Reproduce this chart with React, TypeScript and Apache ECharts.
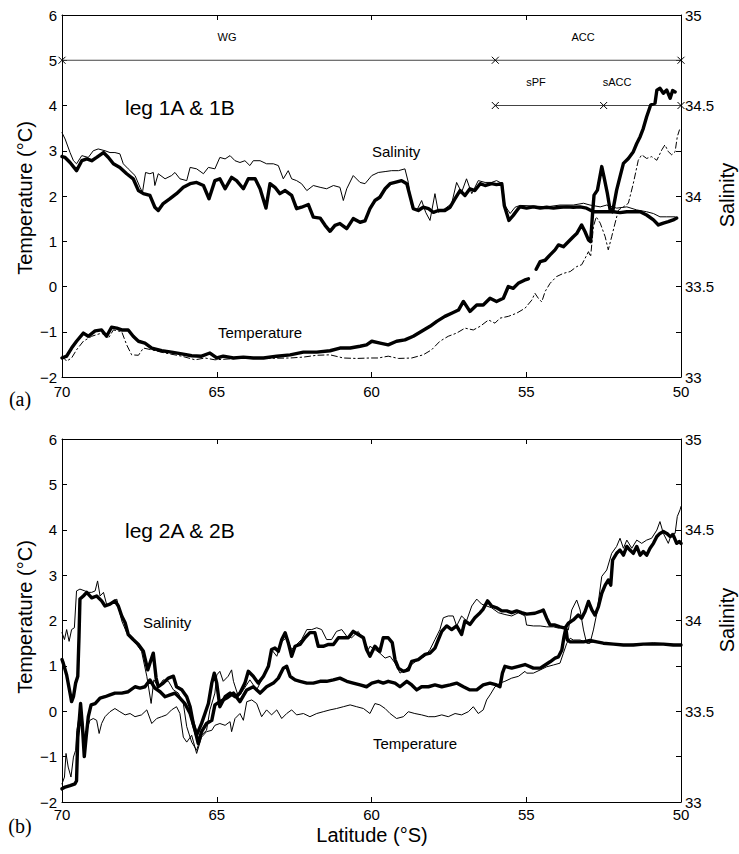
import React, { useEffect, useRef } from 'react';
import * as echarts from 'echarts';

const FONT = '"Liberation Sans", Arial, Helvetica, sans-serif';
const SERIF = '"Liberation Serif", "Times New Roman", serif';

// ---- axis ranges / ticks ----
const latRange = [50, 70];
const latStep = 5;
const tempRange = [-2, 6];
const salRange = [33, 35];
const salStep = 0.25;

// ---- panel (a): leg 1A & 1B ----
const aSalThick: any[] = [
  [70.0, 34.218], [69.9, 34.213], [69.74, 34.185], [69.53, 34.14], [69.36, 34.195], [69.2, 34.205], [69.04, 34.195], [68.88, 34.213], [68.66, 34.24], [68.5, 34.213], [68.34, 34.178], [68.13, 34.158], [67.91, 34.123], [67.7, 34.095], [67.53, 34.03], [67.37, 34.013], [67.16, 34.003], [67.0, 33.938], [66.89, 33.92], [66.73, 33.958], [66.51, 33.985], [66.3, 34.013], [66.08, 34.048], [65.86, 34.068], [65.65, 34.075], [65.43, 34.058], [65.25, 33.985], [65.06, 34.085], [64.9, 34.095], [64.73, 34.04], [64.52, 34.103], [64.36, 34.085], [64.14, 34.04], [63.98, 34.095], [63.76, 34.095], [63.6, 34.04], [63.41, 33.933], [63.28, 34.068], [63.12, 34.048], [62.96, 34.013], [62.79, 34.03], [62.58, 34.003], [62.42, 33.93], [62.26, 33.938], [62.04, 33.953], [61.88, 33.883], [61.66, 33.878], [61.5, 33.838], [61.34, 33.805], [61.18, 33.838], [61.02, 33.848], [60.8, 33.82], [60.59, 33.875], [60.37, 33.855], [60.21, 33.863], [60.05, 33.93], [59.89, 33.975], [59.73, 33.993], [59.56, 34.04], [59.4, 34.068], [59.24, 34.075], [59.03, 34.085], [58.86, 34.068], [58.76, 34.003], [58.65, 33.93], [58.49, 33.92], [58.33, 33.938], [58.16, 33.93], [58.0, 33.91], [57.84, 33.92], [57.63, 33.92], [57.46, 33.938], [57.3, 33.985], [57.14, 34.03], [56.98, 34.003], [56.82, 34.04], [56.66, 34.03], [56.49, 34.068], [56.33, 34.058], [56.12, 34.068], [55.96, 34.063], [55.79, 34.068], [55.71, 33.948], [55.56, 33.865], [55.42, 33.893], [55.26, 33.93], [55.2, 33.94], [54.99, 33.933], [54.77, 33.94], [54.55, 33.933], [54.34, 33.938], [54.12, 33.933], [53.91, 33.938], [53.69, 33.94], [53.48, 33.938], [53.26, 33.94], [53.05, 33.933], [52.83, 33.913], [52.51, 33.913], [52.18, 33.913], [51.97, 33.908], [51.75, 33.913], [51.54, 33.913], [51.32, 33.913], [51.11, 33.895], [50.89, 33.868], [50.73, 33.84], [50.57, 33.85], [50.41, 33.858], [50.25, 33.868], [50.14, 33.878],
];
const aSalThin: any[] = [
  [70.0, 34.35], [69.9, 34.315], [69.74, 34.24], [69.63, 34.195], [69.53, 34.178], [69.36, 34.223], [69.15, 34.213], [68.99, 34.25], [68.83, 34.26], [68.61, 34.25], [68.45, 34.24], [68.29, 34.24], [68.13, 34.233], [68.02, 34.178], [67.86, 34.15], [67.64, 34.113], [67.48, 34.048], [67.4, 34.02], [67.3, 34.13], [67.16, 34.123], [67.05, 34.13], [67.0, 34.058], [66.89, 34.123], [66.67, 34.095], [66.46, 34.113], [66.35, 34.13], [66.19, 34.095], [65.97, 34.085], [65.86, 34.158], [65.65, 34.15], [65.43, 34.123], [65.27, 34.158], [65.06, 34.15], [64.9, 34.213], [64.73, 34.205], [64.57, 34.223], [64.41, 34.195], [64.25, 34.185], [64.09, 34.195], [63.93, 34.168], [63.82, 34.195], [63.6, 34.195], [63.39, 34.178], [63.17, 34.178], [63.01, 34.168], [62.85, 34.095], [62.69, 34.14], [62.58, 34.095], [62.42, 34.085], [62.26, 34.068], [62.09, 34.03], [61.88, 34.058], [61.66, 34.048], [61.45, 34.04], [61.23, 34.058], [61.02, 34.048], [60.91, 33.975], [60.8, 34.04], [60.59, 34.113], [60.37, 34.075], [60.21, 34.068], [59.99, 34.113], [59.78, 34.13], [59.56, 34.135], [59.35, 34.14], [59.13, 34.14], [58.92, 34.15], [58.81, 34.075], [58.7, 33.938], [58.54, 33.92], [58.38, 33.975], [58.25, 33.91], [58.11, 33.865], [57.95, 34.013], [57.84, 33.91], [57.63, 33.93], [57.41, 33.958], [57.25, 34.075], [57.09, 34.02], [56.93, 34.095], [56.76, 34.013], [56.55, 34.085], [56.33, 34.075], [56.12, 34.075], [55.96, 34.085], [55.77, 34.068], [55.69, 33.948], [55.52, 33.903], [55.36, 33.938], [55.2, 33.948], [54.77, 33.945], [54.34, 33.94], [53.91, 33.95], [53.48, 33.95], [53.15, 33.96], [52.94, 33.95], [52.61, 33.94], [52.4, 33.95], [52.08, 33.933], [51.75, 33.94], [51.43, 33.923], [51.11, 33.913], [50.89, 33.903], [50.68, 33.885], [50.46, 33.885], [50.19, 33.885],
];
const aTempThick: any[] = [
  [70.0, -1.58], [69.85, -1.54], [69.69, -1.36], [69.53, -1.21], [69.31, -1.03], [69.15, -1.1], [68.93, -0.98], [68.72, -0.96], [68.56, -1.1], [68.4, -0.9], [68.23, -0.92], [68.07, -0.96], [67.86, -0.96], [67.7, -1.1], [67.53, -1.21], [67.32, -1.25], [67.1, -1.36], [66.78, -1.42], [66.46, -1.45], [66.13, -1.49], [65.81, -1.53], [65.49, -1.54], [65.22, -1.47], [65.0, -1.58], [64.79, -1.54], [64.46, -1.58], [64.14, -1.56], [63.82, -1.58], [63.49, -1.58], [63.06, -1.54], [62.63, -1.51], [62.2, -1.45], [61.77, -1.45], [61.34, -1.42], [61.02, -1.36], [60.69, -1.36], [60.37, -1.32], [60.16, -1.29], [59.99, -1.21], [59.72, -1.25], [59.46, -1.29], [59.19, -1.21], [58.92, -1.18], [58.65, -1.1], [58.38, -0.99], [58.11, -0.88], [57.89, -0.77], [57.63, -0.66], [57.41, -0.59], [57.19, -0.52], [57.03, -0.33], [56.82, -0.55], [56.6, -0.41], [56.39, -0.41], [56.17, -0.26], [55.96, -0.33], [55.74, -0.26], [55.58, 0.0], [55.42, -0.04], [55.26, 0.07], [55.06, 0.14], [54.93, 0.17], [54.81, '-'], [54.68, 0.38], [54.55, 0.55], [54.39, 0.58], [54.23, 0.7], [54.07, 0.81], [53.96, 0.92], [53.8, 0.88], [53.64, 0.99], [53.48, 1.1], [53.37, 1.17], [53.21, 1.36], [53.1, 1.21], [52.99, 1.03], [52.92, 0.99], [52.85, 1.69], [52.81, 2.02], [52.7, 2.13], [52.56, 2.65], [52.49, 2.43], [52.38, 2.06], [52.29, 1.69], [52.21, 1.65], [52.08, 2.13], [51.97, 2.43], [51.86, 2.72], [51.7, 2.83], [51.54, 2.98], [51.43, 3.16], [51.32, 3.31], [51.22, 3.49], [51.11, 3.75], [50.98, 4.01], [50.84, 4.05], [50.78, 4.34], [50.68, 4.38], [50.57, 4.27], [50.46, 4.34], [50.35, 4.16], [50.27, 4.33], [50.19, 4.3],
];
const aTempThin: any[] = [
  [70.0, -1.54], [69.85, -1.65], [69.69, -1.58], [69.53, -1.4], [69.31, -1.21], [69.04, -1.1], [68.72, -1.03], [68.5, -1.14], [68.34, -0.96], [68.07, -1.0], [67.91, -1.29], [67.75, -1.51], [67.53, -1.52], [67.37, -1.36], [67.1, -1.4], [66.67, -1.47], [66.13, -1.54], [65.7, -1.62], [65.38, -1.58], [65.06, -1.62], [64.36, -1.59], [63.49, -1.59], [62.63, -1.58], [62.2, -1.56], [61.77, -1.52], [61.34, -1.51], [60.91, -1.58], [60.48, -1.59], [60.05, -1.58], [59.78, -1.58], [59.46, -1.54], [59.13, -1.59], [58.7, -1.58], [58.33, -1.51], [58.06, -1.4], [57.79, -1.21], [57.52, -1.1], [57.25, -1.03], [56.98, -0.92], [56.71, -0.96], [56.49, -0.88], [56.22, -0.74], [56.01, -0.81], [55.85, -0.7], [55.58, -0.66], [55.31, -0.59], [55.04, -0.48], [54.82, -0.3], [54.72, -0.15], [54.61, -0.26], [54.5, -0.34], [54.39, -0.11], [54.23, 0.07], [54.02, 0.22], [53.8, 0.29], [53.58, 0.33], [53.37, 0.44], [53.21, 0.48], [53.1, 0.62], [52.99, 0.77], [52.92, 0.66], [52.83, 1.32], [52.74, 1.54], [52.61, 1.4], [52.45, 1.1], [52.35, 0.81], [52.24, 1.1], [52.13, 1.4], [52.02, 1.69], [51.86, 1.76], [51.7, 1.84], [51.54, 2.28], [51.38, 2.79], [51.27, 2.91], [51.11, 2.83], [50.95, 2.87], [50.78, 2.79], [50.62, 3.02], [50.52, 3.13], [50.41, 2.98], [50.3, 2.91], [50.19, 2.98], [50.12, 3.31], [50.05, 3.46],
];
// frontal zones (temperature-axis level of the marker lines)
const zoneLine = [[70, 5], [56, 5], [50, 5]];
const frontLine = [[56, 4], [52.5, 4], [50, 4]];

// ---- panel (b): leg 2A & 2B ----
const bSalThick: any[] = [
  [70.0, 33.785], [69.96, 33.765], [69.85, 33.7], [69.74, 33.6], [69.69, 33.553], [69.63, 33.58], [69.56, 33.655], [69.49, 33.693], [69.45, 33.913], [69.42, 34.118], [69.31, 34.135], [69.2, 34.155], [69.04, 34.125], [68.88, 34.135], [68.72, 34.108], [68.61, 34.08], [68.45, 34.09], [68.29, 34.108], [68.18, 34.08], [68.07, 34.025], [67.96, 33.988], [67.86, 33.923], [67.7, 33.895], [67.53, 33.868], [67.37, 33.83], [67.23, 33.728], [67.16, 33.765], [67.05, 33.82], [66.96, 33.683], [66.89, 33.635], [66.73, 33.655], [66.56, 33.683], [66.4, 33.693], [66.3, 33.635], [66.13, 33.618], [65.97, 33.58], [65.86, 33.525], [65.76, 33.433], [65.65, 33.368], [65.49, 33.433], [65.38, 33.488], [65.27, 33.543], [65.16, 33.655], [65.08, 33.71], [65.0, 33.655], [64.9, 33.525], [64.73, 33.58], [64.57, 33.6], [64.41, 33.58], [64.25, 33.6], [64.09, 33.655], [63.98, 33.72], [63.82, 33.693], [63.66, 33.655], [63.49, 33.693], [63.33, 33.748], [63.23, 33.84], [63.12, 33.848], [63.01, 33.83], [62.9, 33.895], [62.79, 33.933], [62.69, 33.878], [62.58, 33.803], [62.47, 33.858], [62.31, 33.868], [62.15, 33.905], [61.99, 33.933], [61.83, 33.933], [61.72, 33.858], [61.56, 33.858], [61.39, 33.868], [61.23, 33.868], [61.07, 33.905], [60.91, 33.905], [60.75, 33.905], [60.59, 33.94], [60.43, 33.923], [60.26, 33.905], [60.16, 33.84], [60.05, 33.803], [59.89, 33.858], [59.73, 33.83], [59.62, 33.905], [59.46, 33.905], [59.33, 33.878], [59.24, 33.785], [59.13, 33.738], [58.97, 33.72], [58.81, 33.728], [58.7, 33.775], [58.49, 33.785], [58.27, 33.813], [58.11, 33.82], [57.95, 33.848], [57.84, 33.895], [57.73, 33.94], [57.57, 33.97], [57.41, 33.95], [57.25, 33.97], [57.09, 33.923], [56.98, 33.998], [56.82, 33.978], [56.66, 34.015], [56.49, 34.043], [56.39, 34.063], [56.25, 34.108], [56.12, 34.08], [55.96, 34.07], [55.79, 34.053], [55.63, 34.053], [55.47, 34.043], [55.31, 34.053], [55.15, 34.043], [54.99, 34.035], [54.72, 34.04], [54.55, 34.05], [54.45, 34.058], [54.34, 34.013], [54.23, 33.975], [54.07, 33.975], [53.91, 33.965], [53.75, 33.958], [53.64, 33.985], [53.48, 34.003], [53.32, 34.03], [53.21, 34.013], [53.1, 34.05], [52.99, 34.105], [52.88, 34.058], [52.78, 34.03], [52.67, 34.075], [52.56, 34.15], [52.45, 34.195], [52.35, 34.223], [52.27, 34.195], [52.21, 34.333], [52.08, 34.37], [51.97, 34.388], [51.86, 34.36], [51.75, 34.408], [51.65, 34.388], [51.54, 34.37], [51.43, 34.408], [51.32, 34.36], [51.22, 34.38], [51.11, 34.36], [51.0, 34.398], [50.89, 34.425], [50.78, 34.463], [50.68, 34.48], [50.57, 34.49], [50.46, 34.48], [50.35, 34.463], [50.25, 34.47], [50.14, 34.425], [50.05, 34.435], [50.0, 34.425],
];
const bSalThin: any[] = [
  [70.0, 33.933], [69.92, 33.895], [69.85, 33.95], [69.77, 33.885], [69.69, 33.95], [69.6, 33.96], [69.53, 34.163], [69.42, 34.173], [69.26, 34.163], [69.15, 34.155], [69.04, 34.155], [68.93, 34.163], [68.85, 34.218], [68.77, 34.135], [68.66, 34.155], [68.56, 34.09], [68.4, 34.09], [68.23, 34.118], [68.07, 33.998], [67.91, 33.933], [67.75, 33.895], [67.59, 33.868], [67.43, 33.83], [67.26, 33.693], [67.12, 33.543], [67.03, 33.673], [66.89, 33.635], [66.73, 33.673], [66.56, 33.665], [66.4, 33.618], [66.24, 33.6], [66.08, 33.543], [65.97, 33.415], [65.81, 33.33], [65.65, 33.285], [65.49, 33.368], [65.33, 33.395], [65.22, 33.508], [65.06, 33.6], [65.0, 33.7], [64.9, 33.72], [64.79, 33.665], [64.63, 33.693], [64.52, 33.728], [64.46, 33.665], [64.3, 33.58], [64.14, 33.618], [63.93, 33.673], [63.71, 33.618], [63.55, 33.673], [63.39, 33.728], [63.23, 33.84], [63.06, 33.803], [62.9, 33.885], [62.74, 33.905], [62.58, 33.84], [62.42, 33.868], [62.26, 33.895], [62.09, 33.95], [61.93, 33.95], [61.77, 33.96], [61.61, 33.95], [61.45, 33.895], [61.29, 33.895], [61.13, 33.94], [60.96, 33.95], [60.8, 33.913], [60.64, 33.905], [60.43, 33.94], [60.26, 33.895], [60.1, 33.84], [60.05, 33.858], [59.89, 33.84], [59.73, 33.82], [59.56, 33.793], [59.4, 33.803], [59.24, 33.765], [59.08, 33.71], [58.92, 33.728], [58.7, 33.758], [58.49, 33.785], [58.27, 33.803], [58.11, 33.84], [57.95, 33.895], [57.79, 33.95], [57.68, 34.015], [57.52, 34.025], [57.36, 34.025], [57.25, 33.97], [57.09, 34.025], [56.93, 33.998], [56.76, 34.08], [56.6, 34.118], [56.44, 34.09], [56.28, 34.08], [56.12, 34.07], [55.9, 34.043], [55.69, 34.033], [55.47, 34.025], [55.25, 34.043], [55.04, 34.025], [54.99, 33.975], [54.77, 33.97], [54.55, 33.97], [54.34, 33.965], [54.12, 33.965], [53.96, 33.958], [53.8, 33.965], [53.64, 33.948], [53.53, 34.058], [53.37, 34.113], [53.26, 34.058], [53.15, 33.948], [53.05, 33.875], [52.94, 33.875], [52.83, 33.948], [52.72, 34.04], [52.56, 34.243], [52.4, 34.278], [52.24, 34.37], [52.08, 34.408], [51.97, 34.453], [51.86, 34.398], [51.75, 34.443], [51.59, 34.398], [51.43, 34.443], [51.27, 34.425], [51.11, 34.443], [50.95, 34.453], [50.78, 34.498], [50.68, 34.545], [50.57, 34.48], [50.41, 34.425], [50.3, 34.48], [50.19, 34.48], [50.12, 34.573], [50.03, 34.61], [50.0, 34.628],
];
const bTempThick: any[] = [
  [70.0, -1.71], [69.9, -1.67], [69.74, -1.64], [69.58, -1.6], [69.53, -1.53], [69.49, -0.57], [69.45, -0.27], [69.4, 0.17], [69.34, -0.34], [69.28, -1.0], [69.22, -0.57], [69.15, -0.12], [69.06, 0.14], [68.93, 0.17], [68.77, 0.29], [68.61, 0.32], [68.45, 0.36], [68.29, 0.4], [68.07, 0.4], [67.86, 0.43], [67.64, 0.54], [67.48, 0.51], [67.32, 0.54], [67.16, 0.69], [67.0, 0.51], [66.83, 0.43], [66.67, 0.32], [66.51, 0.36], [66.35, 0.4], [66.19, 0.29], [66.03, 0.17], [65.86, -0.05], [65.7, -0.42], [65.6, -0.71], [65.49, -0.45], [65.33, -0.27], [65.16, -0.2], [65.06, 0.14], [64.9, 0.21], [64.68, 0.29], [64.46, 0.4], [64.25, 0.21], [64.03, 0.47], [63.82, 0.54], [63.6, 0.4], [63.39, 0.54], [63.17, 0.62], [63.01, 0.73], [62.85, 0.95], [62.74, 0.99], [62.63, 0.77], [62.47, 0.69], [62.31, 0.66], [62.09, 0.62], [61.88, 0.62], [61.66, 0.66], [61.45, 0.66], [61.23, 0.69], [61.02, 0.73], [60.8, 0.66], [60.59, 0.62], [60.37, 0.58], [60.16, 0.54], [59.99, 0.62], [59.78, 0.66], [59.62, 0.62], [59.46, 0.66], [59.24, 0.62], [59.08, 0.54], [58.86, 0.66], [58.7, 0.58], [58.54, 0.47], [58.38, 0.54], [58.16, 0.54], [57.95, 0.58], [57.73, 0.54], [57.46, 0.58], [57.25, 0.62], [57.03, 0.54], [56.82, 0.47], [56.6, 0.47], [56.39, 0.58], [56.17, 0.62], [55.96, 0.58], [55.85, 0.54], [55.77, 0.84], [55.69, 0.99], [55.47, 0.95], [55.25, 0.99], [55.04, 1.03], [54.77, 0.95], [54.55, 0.95], [54.39, 1.02], [54.23, 1.09], [54.07, 1.17], [53.96, 1.2], [53.85, 1.35], [53.78, 1.64], [53.72, 1.83], [53.67, 1.57], [53.58, 1.53], [53.37, 1.53], [53.15, 1.53], [52.94, 1.56], [52.72, 1.53], [52.51, 1.5], [52.18, 1.48], [51.86, 1.46], [51.54, 1.46], [51.22, 1.48], [50.89, 1.48], [50.57, 1.48], [50.25, 1.46], [50.0, 1.46],
];
const bTempThin: any[] = [
  [70.0, -1.6], [69.92, -1.45], [69.87, -0.93], [69.8, -1.23], [69.71, -1.45], [69.63, -1.01], [69.56, -0.86], [69.52, -0.42], [69.45, -0.12], [69.36, -0.05], [69.28, -0.57], [69.2, -0.42], [69.1, -0.2], [68.99, -0.16], [68.88, -0.2], [68.8, -0.49], [68.72, -0.27], [68.61, -0.12], [68.45, -0.01], [68.29, 0.06], [68.13, -0.01], [67.96, -0.08], [67.8, -0.05], [67.64, -0.12], [67.43, -0.08], [67.26, 0.03], [67.1, -0.27], [66.94, -0.16], [66.78, -0.12], [66.62, -0.08], [66.46, 0.03], [66.3, 0.1], [66.19, -0.05], [66.08, -0.57], [65.97, -0.68], [65.81, -0.53], [65.65, -0.93], [65.49, -0.57], [65.33, -0.45], [65.16, -0.42], [65.06, -0.31], [64.9, -0.27], [64.73, -0.31], [64.57, -0.23], [64.52, -0.45], [64.41, -0.16], [64.25, -0.05], [64.14, -0.2], [64.03, 0.21], [63.87, 0.25], [63.71, 0.17], [63.55, -0.12], [63.39, 0.03], [63.23, -0.08], [63.06, 0.03], [62.9, -0.16], [62.74, -0.05], [62.58, 0.03], [62.42, -0.08], [62.2, -0.05], [61.99, -0.12], [61.77, -0.05], [61.56, -0.01], [61.34, 0.03], [61.13, 0.06], [60.91, 0.1], [60.69, 0.14], [60.48, 0.1], [60.26, 0.06], [60.05, -0.05], [59.89, 0.17], [59.73, 0.14], [59.56, 0.06], [59.4, -0.05], [59.19, -0.16], [58.97, -0.12], [58.81, -0.01], [58.6, -0.05], [58.38, -0.08], [58.16, -0.12], [57.95, -0.12], [57.73, -0.08], [57.52, -0.12], [57.3, -0.05], [57.09, -0.08], [56.87, -0.01], [56.71, 0.1], [56.55, -0.05], [56.39, 0.03], [56.28, 0.25], [56.17, 0.36], [56.01, 0.54], [55.85, 0.62], [55.69, 0.66], [55.47, 0.73], [55.25, 0.77], [55.04, 0.88], [54.99, 0.84], [54.77, 0.84], [54.55, 0.91], [54.34, 0.98], [54.12, 1.02], [53.91, 1.06], [53.8, 1.28], [53.69, 1.5], [53.58, 1.61], [53.48, 1.57], [53.26, 1.57], [53.1, 1.53], [52.99, 1.5], [52.83, 1.53], [52.51, 1.5], [51.97, 1.46], [51.43, 1.48], [50.89, 1.51], [50.35, 1.48], [50.0, 1.46],
];

const THICK = 3.4;
const THIN = 1;

function lineSeries(data: any[], xi: number, yi: number, width: number, type: any = 'solid') {
  return {
    type: 'line',
    data,
    xAxisIndex: xi,
    yAxisIndex: yi,
    symbol: 'none',
    showSymbol: false,
    silent: true,
    connectNulls: false,
    lineStyle: { color: '#000', width, type, cap: 'round', join: 'round' },
    z: width > 2 ? 3 : 4,
  };
}

function markerSeries(data: any[], xi: number, yi: number) {
  return {
    type: 'line',
    data,
    xAxisIndex: xi,
    yAxisIndex: yi,
    symbol: 'path://M0,0L10,10M10,0L0,10',
    symbolSize: 7,
    showSymbol: true,
    clip: false,
    silent: true,
    itemStyle: { color: '#000', borderColor: '#000', borderWidth: 1 },
    lineStyle: { color: '#444', width: 1 },
    z: 2,
  };
}

const tickStyle = { color: '#000', width: 1 };
const labelBase = { color: '#000', fontSize: 15, fontFamily: FONT };

function xAxes(grid: number, margin: number) {
  const common = {
    type: 'value',
    gridIndex: grid,
    min: latRange[0],
    max: latRange[1],
    interval: latStep,
    inverse: true,
    splitLine: { show: false },
    axisLine: { show: true, onZero: false, lineStyle: tickStyle },
    axisTick: { show: true, inside: true, length: 5, lineStyle: tickStyle },
  };
  return [
    { ...common, position: 'bottom', axisLabel: { ...labelBase, margin } },
    { ...common, position: 'top', axisLabel: { show: false } },
  ];
}

function yAxes(grid: number) {
  return [
    {
      type: 'value',
      gridIndex: grid,
      position: 'left',
      min: tempRange[0],
      max: tempRange[1],
      interval: 1,
      splitLine: { show: false },
      axisLine: { show: true, onZero: false, lineStyle: tickStyle },
      axisTick: { show: true, inside: true, length: 5, lineStyle: tickStyle },
      axisLabel: { ...labelBase, margin: 5, formatter: (v: number) => (v < 0 ? '\u2212' + Math.abs(v) : String(v)) },
    },
    {
      type: 'value',
      gridIndex: grid,
      position: 'right',
      min: salRange[0],
      max: salRange[1],
      interval: salStep,
      splitLine: { show: false },
      axisLine: { show: true, onZero: false, lineStyle: tickStyle },
      axisTick: { show: true, inside: true, length: 5, lineStyle: tickStyle },
      axisLabel: { ...labelBase, margin: 4, formatter: (v: number) => (Math.round(v * 4) % 2 === 0 ? String(v) : '') },
    },
  ];
}

function txt(text: string, x: number, y: number, size: number, extra: any = {}) {
  return {
    type: 'text',
    x,
    y,
    rotation: extra.rotation || 0,
    silent: true,
    style: {
      text,
      fill: '#000',
      fontSize: size,
      fontFamily: extra.family || FONT,
      align: extra.align || 'center',
      verticalAlign: 'middle',
      textAlign: extra.align || 'center',
      textVerticalAlign: 'middle',
    },
  };
}

const option: any = {
  animation: false,
  backgroundColor: '#fff',
  grid: [
    { left: 62, top: 15, width: 619, height: 362, show: false },
    { left: 62, top: 439, width: 619, height: 363, show: false },
  ],
  xAxis: [...xAxes(0, 7), ...xAxes(1, 5)],
  yAxis: [...yAxes(0), ...yAxes(1)],
  series: [
    markerSeries(zoneLine, 0, 0),
    markerSeries(frontLine, 0, 0),
    lineSeries(aTempThin, 0, 0, THIN, [6, 3, 1.5, 3]),
    lineSeries(aTempThick, 0, 0, THICK),
    lineSeries(aSalThin, 0, 1, THIN),
    lineSeries(aSalThick, 0, 1, THICK),
    lineSeries(bTempThin, 2, 2, THIN),
    lineSeries(bTempThick, 2, 2, THICK),
    lineSeries(bSalThin, 2, 3, THIN),
    lineSeries(bSalThick, 2, 3, THICK),
  ],
  graphic: [
    txt('WG', 227, 37, 11),
    txt('ACC', 583, 37, 11),
    txt('sPF', 536, 82, 11),
    txt('sACC', 617, 82, 11),
    txt('leg 1A & 1B', 125, 107, 21, { align: 'left' }),
    txt('Salinity', 372, 151, 15, { align: 'left' }),
    txt('Temperature', 218, 332, 15, { align: 'left' }),
    txt('leg 2A & 2B', 125, 530, 21, { align: 'left' }),
    txt('Salinity', 143, 622, 15, { align: 'left' }),
    txt('Temperature', 373, 743, 15, { align: 'left' }),
    txt('Temperature (°C)', 25, 198, 20, { rotation: Math.PI / 2 }),
    txt('Salinity', 727, 195, 20, { rotation: Math.PI / 2 }),
    txt('Temperature (°C)', 25, 617, 20, { rotation: Math.PI / 2 }),
    txt('Salinity', 727, 620, 20, { rotation: Math.PI / 2 }),
    txt('Latitude (°S)', 372, 835, 20),
    txt('(a)', 20, 399, 20, { family: SERIF }),
    txt('(b)', 20, 826, 20, { family: SERIF }),
  ],
};

export default function App() {
  const ref = useRef<HTMLDivElement>(null);
  useEffect(() => {
    const chart = echarts.init(ref.current!, null, { renderer: 'svg' });
    chart.setOption(option);
    return () => chart.dispose();
  }, []);
  return (
    <div
      ref={ref}
      style={{ position: 'absolute', left: 0, top: 0, width: 739, height: 854, background: '#fff' }}
    />
  );
}
